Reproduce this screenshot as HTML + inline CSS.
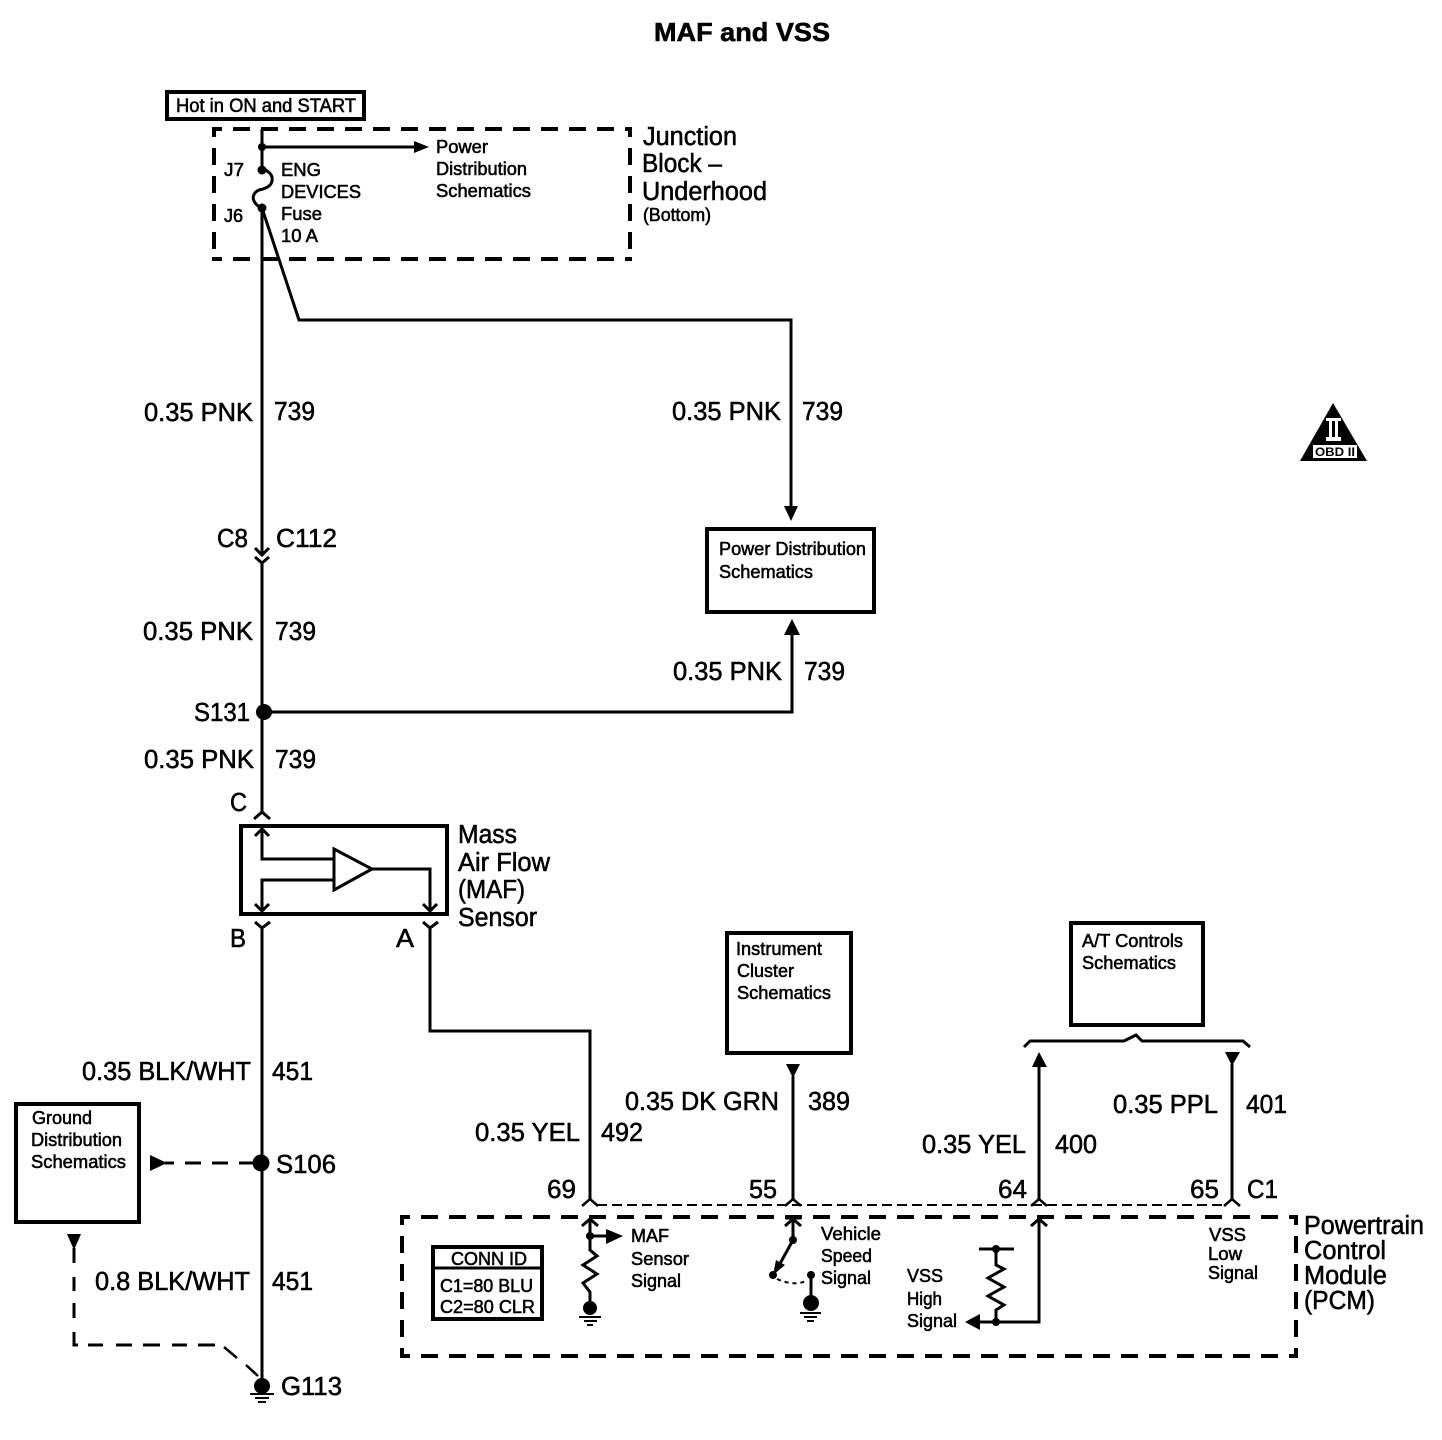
<!DOCTYPE html>
<html><head><meta charset="utf-8"><style>
html,body{margin:0;padding:0;background:#fff}
svg{display:block}
text{font-family:"Liberation Sans",sans-serif;fill:#000;stroke:#000;stroke-width:.55}
.b{font-size:25.5px}
.s{font-size:18px}
.w{fill:none;stroke:#000;stroke-width:3}
.d{fill:none;stroke:#000;stroke-width:4;stroke-dasharray:17 11;stroke-dashoffset:7}
.k{fill:#000;stroke:none}
</style></head><body>
<svg xmlns="http://www.w3.org/2000/svg" width="1442" height="1440" viewBox="0 0 1442 1440">
<rect width="1442" height="1440" fill="#fff"/>
<text x="654" y="41" font-size="26" font-weight="bold" textLength="176" lengthAdjust="spacingAndGlyphs">MAF and VSS</text>

<!-- boxes -->
<rect x="167" y="92" width="197" height="27" class="w" style="stroke-width:4"/>
<path d="M212 129H632M212 259H632M214 127V261M630 127V261" class="d"/>
<rect x="707" y="529" width="167" height="83" class="w" style="stroke-width:4"/>
<rect x="241" y="826" width="206" height="88" class="w" style="stroke-width:4"/>
<rect x="727" y="933" width="124" height="120" class="w" style="stroke-width:4"/>
<rect x="1071" y="923" width="132" height="102" class="w" style="stroke-width:4"/>
<rect x="16" y="1104" width="123" height="118" class="w" style="stroke-width:4"/>
<path d="M400 1217H1298M400 1356H1298M402 1215V1358M1296 1215V1358" class="d"/>
<rect x="433" y="1247" width="109" height="72" class="w" style="stroke-width:4"/>
<path d="M433 1268H542" class="w"/>

<!-- top wires -->
<path d="M262 129V169C270 171 273 176 272 181C271 187 264 189 259 190C254 192 252 197 254 201C256 205 259 207 262 208V555" class="w"/>
<path d="M262 147H416" class="w"/>
<path d="M414 141L429 147L414 153Z" class="k"/>
<circle cx="262" cy="147" r="4" class="k"/><circle cx="262" cy="170" r="4.5" class="k"/><circle cx="262" cy="208" r="4.5" class="k"/>
<path d="M262 208L299 320H791V508" class="w"/>
<path d="M784 506H798L791 521Z" class="k"/>
<path d="M255 548L262 555L269 548M255 557L262 563L269 557M262 563V812" class="w"/>
<circle cx="264" cy="712" r="8" class="k"/>
<path d="M264 712H792V632" class="w"/>
<path d="M784 635H800L792 619Z" class="k"/>

<!-- MAF -->
<path d="M254 819L262 812L270 819" class="w"/>
<path d="M255 836L262 829L269 836M262 829V859H334M334 880H262V911M255 904L262 911L269 904" class="w"/>
<path d="M334 849V890L372 869Z" class="w"/>
<path d="M372 869H430V911M423 904L430 911L437 904" class="w"/>
<path d="M255 922L262 928L270 922M262 928V1380" class="w"/>
<path d="M423 922L430 928L438 922M430 928V1031H590V1200" class="w"/>

<!-- ground side -->
<circle cx="261" cy="1163" r="8.5" class="k"/>
<path d="M255 1163H165" class="w" style="stroke-dasharray:16 11"/>
<path d="M150 1155V1171L167 1163Z" class="k"/>
<path d="M67 1234H81L74 1250Z" class="k"/>
<path d="M74 1248V1263M74 1277V1291M74 1303V1318M74 1332V1345H78M88 1345H103M116 1345H132M143 1345H160M172 1345H187M198 1345H215" class="w"/>
<path d="M224 1347L237 1358M246 1365L258 1376" class="w" style="stroke-width:2.5"/>
<circle cx="262" cy="1386" r="8" class="k"/>
<path d="M250 1394H274M255 1398H269M258 1402H266" class="w" style="stroke-width:2"/>

<!-- PCM pins -->
<path d="M597 1205H1226" class="w" style="stroke-width:2;stroke-dasharray:10 5"/>
<path d="M582 1206L590 1199L598 1206M785 1206L793 1199L801 1206M1031 1206L1039 1199L1047 1206M1224 1206L1232 1199L1240 1206" class="w" style="stroke-width:2.5"/>
<path d="M793 1076V1200M1039 1066V1200M1232 1064V1200" class="w"/>
<path d="M786 1064H800L793 1078Z" class="k"/>
<path d="M1032 1067H1047L1039 1052Z" class="k"/>
<path d="M1225 1052H1240L1232 1066Z" class="k"/>
<path d="M1024 1047L1030 1041H1124L1136 1035L1142 1041H1243L1250 1047" class="w"/>

<!-- inside PCM -->
<path d="M582 1226L590 1219L598 1226M590 1219V1250L597 1256L583 1265L597 1274L583 1283L590 1292V1302" class="w"/>
<path d="M590 1236H608" class="w"/>
<path d="M606 1229L623 1236L606 1244Z" class="k"/>
<circle cx="590" cy="1236" r="4" class="k"/>
<circle cx="590" cy="1308" r="7" class="k"/>
<path d="M579 1317H601M584 1321H597M587 1325H593" class="w" style="stroke-width:2"/>

<path d="M785 1226L793 1219L801 1226M785 1218H801M793 1219V1240L776 1271" class="w"/>
<path d="M773 1275L776 1260L785 1265Z" class="k"/>
<circle cx="793" cy="1240" r="4" class="k"/><circle cx="773" cy="1275" r="4" class="k"/><circle cx="811" cy="1275" r="4" class="k"/>
<path d="M777 1279Q795 1287 808 1280" class="w" style="stroke-width:2;stroke-dasharray:4 4"/>
<path d="M811 1275V1300" class="w"/>
<circle cx="811" cy="1303" r="8" class="k"/>
<path d="M800 1313H821M804 1317H817M807 1321H814" class="w" style="stroke-width:2"/>

<path d="M1031 1226L1039 1219L1047 1226M1039 1219V1322H980" class="w"/>
<path d="M980 1314V1330L965 1322Z" class="k"/>
<circle cx="996" cy="1322" r="4" class="k"/><circle cx="996" cy="1249" r="4" class="k"/>
<path d="M979 1249H1014M996 1249V1265L1004 1269L988 1278L1004 1287L988 1296L1004 1305L996 1310V1322" class="w"/>

<!-- OBD -->
<path d="M1333 403L1367 461H1300Z" class="k"/>
<path d="M1326 418H1341V421H1326ZM1326 437H1341V441H1326ZM1329 421H1332V437H1329ZM1335 421H1338V437H1335Z" fill="#fff"/>
<rect x="1313" y="445" width="44" height="13" fill="#fff"/>
<text x="1315" y="456" font-size="12" font-weight="bold" textLength="40" lengthAdjust="spacingAndGlyphs" style="stroke-width:0">OBD II</text>

<!-- small labels -->
<g class="s">
<text x="176" y="112" font-size="19" textLength="180" lengthAdjust="spacingAndGlyphs">Hot in ON and START</text>
<text x="224" y="176" textLength="20" lengthAdjust="spacingAndGlyphs">J7</text>
<text x="224" y="222" textLength="19" lengthAdjust="spacingAndGlyphs">J6</text>
<text x="281" y="176" textLength="40" lengthAdjust="spacingAndGlyphs">ENG</text>
<text x="281" y="198" textLength="80" lengthAdjust="spacingAndGlyphs">DEVICES</text>
<text x="281" y="220" textLength="41" lengthAdjust="spacingAndGlyphs">Fuse</text>
<text x="281" y="242" textLength="37" lengthAdjust="spacingAndGlyphs">10 A</text>
<text x="436" y="153" textLength="52" lengthAdjust="spacingAndGlyphs">Power</text>
<text x="436" y="175" textLength="91" lengthAdjust="spacingAndGlyphs">Distribution</text>
<text x="436" y="197" textLength="95" lengthAdjust="spacingAndGlyphs">Schematics</text>
<text x="643" y="221" textLength="68" lengthAdjust="spacingAndGlyphs">(Bottom)</text>
<text x="719" y="555" textLength="147" lengthAdjust="spacingAndGlyphs">Power Distribution</text>
<text x="719" y="578" textLength="94" lengthAdjust="spacingAndGlyphs">Schematics</text>
<text x="736" y="955" textLength="86" lengthAdjust="spacingAndGlyphs">Instrument</text>
<text x="737" y="977" textLength="57" lengthAdjust="spacingAndGlyphs">Cluster</text>
<text x="737" y="999" textLength="94" lengthAdjust="spacingAndGlyphs">Schematics</text>
<text x="1082" y="947" textLength="101" lengthAdjust="spacingAndGlyphs">A/T Controls</text>
<text x="1082" y="969" textLength="94" lengthAdjust="spacingAndGlyphs">Schematics</text>
<text x="32" y="1124" textLength="60" lengthAdjust="spacingAndGlyphs">Ground</text>
<text x="31" y="1146" textLength="91" lengthAdjust="spacingAndGlyphs">Distribution</text>
<text x="31" y="1168" textLength="95" lengthAdjust="spacingAndGlyphs">Schematics</text>
<text x="451" y="1265" textLength="76" lengthAdjust="spacingAndGlyphs">CONN ID</text>
<text x="440" y="1292" textLength="93" lengthAdjust="spacingAndGlyphs">C1=80 BLU</text>
<text x="440" y="1313" textLength="95" lengthAdjust="spacingAndGlyphs">C2=80 CLR</text>
<text x="631" y="1242" textLength="38" lengthAdjust="spacingAndGlyphs">MAF</text>
<text x="631" y="1265" textLength="58" lengthAdjust="spacingAndGlyphs">Sensor</text>
<text x="631" y="1287" textLength="50" lengthAdjust="spacingAndGlyphs">Signal</text>
<text x="821" y="1240" textLength="60" lengthAdjust="spacingAndGlyphs">Vehicle</text>
<text x="821" y="1262" textLength="51" lengthAdjust="spacingAndGlyphs">Speed</text>
<text x="821" y="1284" textLength="50" lengthAdjust="spacingAndGlyphs">Signal</text>
<text x="907" y="1282" textLength="36" lengthAdjust="spacingAndGlyphs">VSS</text>
<text x="907" y="1305" textLength="35" lengthAdjust="spacingAndGlyphs">High</text>
<text x="907" y="1327" textLength="50" lengthAdjust="spacingAndGlyphs">Signal</text>
<text x="1209" y="1241" textLength="37" lengthAdjust="spacingAndGlyphs">VSS</text>
<text x="1208" y="1260" textLength="34" lengthAdjust="spacingAndGlyphs">Low</text>
<text x="1208" y="1279" textLength="50" lengthAdjust="spacingAndGlyphs">Signal</text>
</g>

<!-- large labels -->
<g class="b">
<text x="643" y="145" textLength="94" lengthAdjust="spacingAndGlyphs">Junction</text>
<text x="642" y="172" textLength="80" lengthAdjust="spacingAndGlyphs">Block –</text>
<text x="642" y="200" textLength="125" lengthAdjust="spacingAndGlyphs">Underhood</text>
<text x="144" y="421" textLength="109" lengthAdjust="spacingAndGlyphs">0.35 PNK</text>
<text x="274" y="420" textLength="41" lengthAdjust="spacingAndGlyphs">739</text>
<text x="672" y="420" textLength="109" lengthAdjust="spacingAndGlyphs">0.35 PNK</text>
<text x="802" y="420" textLength="41" lengthAdjust="spacingAndGlyphs">739</text>
<text x="217" y="547" textLength="31" lengthAdjust="spacingAndGlyphs">C8</text>
<text x="276" y="547" textLength="61" lengthAdjust="spacingAndGlyphs">C112</text>
<text x="143" y="640" textLength="110" lengthAdjust="spacingAndGlyphs">0.35 PNK</text>
<text x="275" y="640" textLength="41" lengthAdjust="spacingAndGlyphs">739</text>
<text x="673" y="680" textLength="109" lengthAdjust="spacingAndGlyphs">0.35 PNK</text>
<text x="804" y="680" textLength="41" lengthAdjust="spacingAndGlyphs">739</text>
<text x="194" y="721" textLength="56" lengthAdjust="spacingAndGlyphs">S131</text>
<text x="144" y="768" textLength="110" lengthAdjust="spacingAndGlyphs">0.35 PNK</text>
<text x="275" y="768" textLength="41" lengthAdjust="spacingAndGlyphs">739</text>
<text x="230" y="811" textLength="17" lengthAdjust="spacingAndGlyphs">C</text>
<text x="230" y="947" textLength="16" lengthAdjust="spacingAndGlyphs">B</text>
<text x="396" y="947" textLength="18" lengthAdjust="spacingAndGlyphs">A</text>
<text x="458" y="843" textLength="59" lengthAdjust="spacingAndGlyphs">Mass</text>
<text x="458" y="871" textLength="92" lengthAdjust="spacingAndGlyphs">Air Flow</text>
<text x="458" y="898" textLength="67" lengthAdjust="spacingAndGlyphs">(MAF)</text>
<text x="458" y="926" textLength="79" lengthAdjust="spacingAndGlyphs">Sensor</text>
<text x="82" y="1080" textLength="169" lengthAdjust="spacingAndGlyphs">0.35 BLK/WHT</text>
<text x="272" y="1080" textLength="41" lengthAdjust="spacingAndGlyphs">451</text>
<text x="625" y="1110" textLength="154" lengthAdjust="spacingAndGlyphs">0.35 DK GRN</text>
<text x="808" y="1110" textLength="42" lengthAdjust="spacingAndGlyphs">389</text>
<text x="475" y="1141" textLength="105" lengthAdjust="spacingAndGlyphs">0.35 YEL</text>
<text x="601" y="1141" textLength="42" lengthAdjust="spacingAndGlyphs">492</text>
<text x="922" y="1153" textLength="104" lengthAdjust="spacingAndGlyphs">0.35 YEL</text>
<text x="1055" y="1153" textLength="42" lengthAdjust="spacingAndGlyphs">400</text>
<text x="1113" y="1113" textLength="105" lengthAdjust="spacingAndGlyphs">0.35 PPL</text>
<text x="1246" y="1113" textLength="41" lengthAdjust="spacingAndGlyphs">401</text>
<text x="547" y="1198" textLength="29" lengthAdjust="spacingAndGlyphs">69</text>
<text x="749" y="1198" textLength="28" lengthAdjust="spacingAndGlyphs">55</text>
<text x="998" y="1198" textLength="29" lengthAdjust="spacingAndGlyphs">64</text>
<text x="1190" y="1198" textLength="29" lengthAdjust="spacingAndGlyphs">65</text>
<text x="1247" y="1198" textLength="31" lengthAdjust="spacingAndGlyphs">C1</text>
<text x="276" y="1173" textLength="60" lengthAdjust="spacingAndGlyphs">S106</text>
<text x="95" y="1290" textLength="155" lengthAdjust="spacingAndGlyphs">0.8 BLK/WHT</text>
<text x="272" y="1290" textLength="41" lengthAdjust="spacingAndGlyphs">451</text>
<text x="281" y="1395" textLength="61" lengthAdjust="spacingAndGlyphs">G113</text>
<text x="1304" y="1234" textLength="120" lengthAdjust="spacingAndGlyphs">Powertrain</text>
<text x="1304" y="1259" textLength="82" lengthAdjust="spacingAndGlyphs">Control</text>
<text x="1304" y="1284" textLength="83" lengthAdjust="spacingAndGlyphs">Module</text>
<text x="1304" y="1309" textLength="71" lengthAdjust="spacingAndGlyphs">(PCM)</text>
</g>
</svg>
</body></html>
